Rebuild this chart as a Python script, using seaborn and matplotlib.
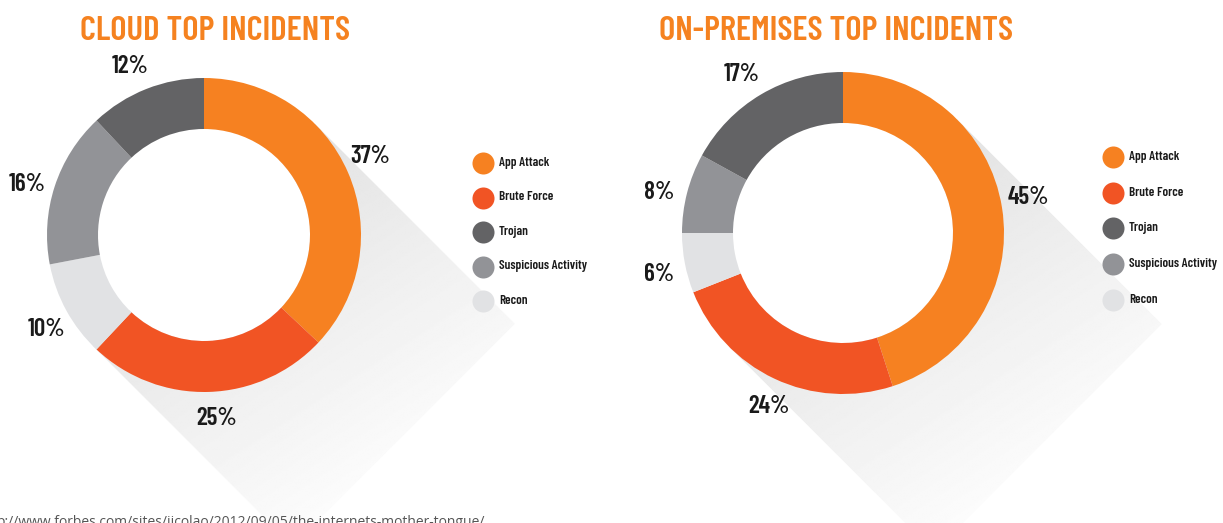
import numpy as np
import matplotlib
matplotlib.use("Agg")
import matplotlib.pyplot as plt
from matplotlib.patches import Polygon, Circle
import seaborn as sns

# données (ordre de la légende)
categories = ['App Attack', 'Brute Force', 'Trojan', 'Suspicious Activity', 'Recon']
cloud_values = [37, 25, 12, 16, 10]
onprem_values = [45, 24, 17, 8, 6]
# ordre des parts dans le sens horaire, à partir du haut
pie_order = [0, 1, 4, 3, 2]
palette_hex = ['#F68121', '#F15424', '#636365', '#929397', '#E1E2E4']

titles = ['CLOUD TOP INCIDENTS', 'ON-PREMISES TOP INCIDENTS']
source_text = 'p://www.forbes.com/sites/jicolao/2012/09/05/the-internets-mother-tongue/'

W, H = 1223, 523
sns.set_theme(style='white')
COND = ['Barlow Condensed', 'Roboto Condensed', 'DejaVu Sans']
plt.rcParams['font.family'] = COND
palette = sns.color_palette(palette_hex)


def draw_shadow(ax, cx, cy, R, L):
    """Ombre longue en diagonale, dégradé vers le blanc"""
    n = np.array([1.0, 1.0]) / np.sqrt(2)
    d = np.array([1.0, -1.0]) / np.sqrt(2)
    c = np.array([cx, cy])
    pts = [c + R * n, c + R * n + L * d, c - R * n + L * d, c - R * n]
    poly = Polygon(pts, closed=True, facecolor='none', edgecolor='none')
    ax.add_patch(poly)
    xs = np.linspace(cx - R - 5, cx + R + L + 5, 400)
    ys = np.linspace(cy - R - L - 5, cy + R + 5, 400)
    X, Y = np.meshgrid(xs, ys)
    t = ((X - cx) * d[0] + (Y - cy) * d[1]) / L
    s = ((X - cx) * n[0] + (Y - cy) * n[1]) / R
    t = np.clip(t, 0, 1)
    val = 0.895 + 0.085 * t - 0.01 * s
    im = ax.imshow(val, extent=(xs[0], xs[-1], ys[0], ys[-1]), origin='lower',
                   cmap='gray', vmin=0, vmax=1, zorder=0.5, interpolation='bilinear')
    im.set_clip_path(poly)


def draw_donut(ax, values, cx, cy, R, inner, title, title_x, leg_x, leg_y, leg_step):
    vals = [values[i] for i in pie_order]
    cols = [palette[i] for i in pie_order]
    draw_shadow(ax, cx, cy, R, 1.8 * R)
    wedges, _, autotexts = ax.pie(vals, colors=cols, startangle=90, counterclock=False,
                                  radius=R, center=(cx, cy), autopct='%1.0f%%',
                                  wedgeprops=dict(width=R - inner, edgecolor='none', linewidth=0),
                                  textprops=dict(fontsize=18, fontweight='semibold',
                                                 color='#1a1a1a', family=COND),
                                  frame=True)
    for w in wedges:
        w.set_zorder(2)
    # trou blanc au centre, par-dessus l'ombre
    ax.add_patch(Circle((cx, cy), inner, facecolor='white', edgecolor='none', zorder=1.5))
    # étiquettes au milieu de chaque part, à 1.17 R
    for t, w in zip(autotexts, wedges):
        ang = np.deg2rad((w.theta1 + w.theta2) / 2 + 2)
        t.set_position((cx + 1.17 * R * np.cos(ang), cy + 1.17 * R * np.sin(ang)))
        t.set_zorder(3)

    ax.text(title_x, H - 31, title, ha='center', va='center', fontsize=25,
            fontweight='semibold', color='#F58220', family=COND)

    for i, cat in enumerate(categories):
        y = leg_y - i * leg_step
        ax.scatter([leg_x], [y], s=22 ** 2 * 0.52, color=palette[i], zorder=4, linewidths=0)
        ax.text(leg_x + 16, y, cat, ha='left', va='center', fontsize=9.4,
                fontweight='semibold', color='#1a1a1a', family=COND, zorder=4)


fig = plt.figure(figsize=(W / 100, H / 100), dpi=100)
ax = fig.add_axes([0, 0, 1, 1])

draw_donut(ax, cloud_values, 204, H - 235, 157, 106, titles[0], 215, 483, H - 163, 34.5)
draw_donut(ax, onprem_values, 843, H - 233, 161, 110, titles[1], 836, 1113, H - 157, 35.7)

ax.text(-3, -3, source_text, ha='left', va='baseline', fontsize=10,
        color='#555555', family=['Open Sans', 'DejaVu Sans'])

ax.set_xlim(0, W)
ax.set_ylim(0, H)
ax.set_aspect('equal')
ax.axis('off')

fig.savefig('out.png', dpi=100)
